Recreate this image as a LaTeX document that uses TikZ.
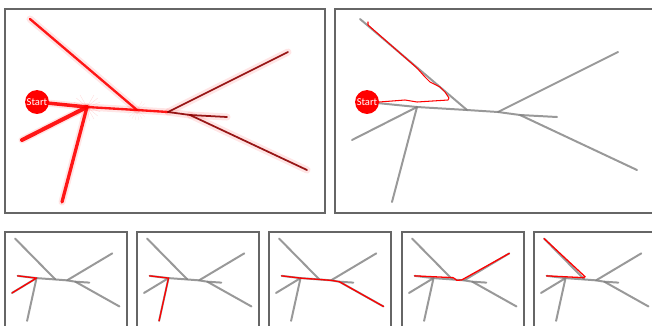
\documentclass[tikz,border=0pt]{standalone}
\usepackage{fontspec}
\newfontfamily\carlito{Carlito}
\usepackage{tikz}
\usetikzlibrary{calc}

% gia tri toa do cua duong ray (don vi: pixel cua khung lon)
\newcommand{\trackpoints}{%
    \coordinate (S) at (32,93);
    \coordinate (TL) at (25,10);
    \coordinate (J1) at (82,98);
    \coordinate (J2) at (132,101);
    \coordinate (J3) at (163,103);
    \coordinate (J4) at (185,106);
    \coordinate (stub) at (222,108);
    \coordinate (UR) at (283,43);
    \coordinate (LR) at (302,161);
    \coordinate (LL) at (17,131);
    \coordinate (D) at (57,193);
}
\newcommand{\drawtrack}[1]{%
    \draw[#1] (S) -- (J1) -- (J2) -- (J3) -- (J4) -- (stub);
    \draw[#1] (TL) -- (J2);
    \draw[#1] (J3) -- (UR);
    \draw[#1] (J4) -- (LR);
    \draw[#1] (J1) -- (LL);
    \draw[#1] (J1) -- (D);
}

\tikzset{
    frame/.style={draw=black!60, line width=0.9pt},
    track/.style={draw=black!50, line width=1.7pt, line cap=round, line join=round, opacity=0.8},
    route/.style={draw=red, line width=1.1pt, line cap=round, line join=round},
    heat/.style={draw=red, line cap=round, line join=round, opacity=0.9},
    haze/.style={draw=red, line width=6pt, opacity=0.1, line cap=round},
    startdot/.style={circle, fill=red, text=white, minimum size=20.4pt, inner sep=0pt,
        font=\carlito\fontsize{9}{10}\selectfont},
}

\begin{document}
\begin{tikzpicture}[x=0.03cm, y=-0.03cm]
    \useasboundingbox (0,0) rectangle (652,325);
    \clip (0,0) rectangle (652,325);

    % Khung 1: mat do quy dao
    \draw[frame] (5,9) rectangle (325,213);
    \begin{scope}[shift={(5,9)}]
        \trackpoints
        \drawtrack{haze}
        \foreach \a in {-60,-40,...,240} {
            \draw[red, opacity=0.12, line width=0.4pt] (J1) -- ++(\a:14);
            \draw[red, opacity=0.08, line width=0.4pt] (J2) -- ++(\a:10);
        }
        \draw[heat, line width=3pt] (S) -- (J1);
        \draw[heat, line width=3.4pt] (J1) -- (LL);
        \draw[heat, line width=2.8pt] (J1) -- (D);
        \draw[heat, line width=2pt] (J1) -- (J2) -- (J3);
        \draw[heat, line width=2pt] (TL) -- (J2);
        \draw[heat, draw=red!55!black, line width=1.5pt] (J3) -- (UR);
        \draw[heat, draw=red!55!black, line width=1.5pt] (J3) -- (J4) -- (stub);
        \draw[heat, draw=red!55!black, line width=1.5pt] (J4) -- (LR);
        \node[startdot] (start1) at (S) {Start};
    \end{scope}

    % Khung 2: mot quy dao
    \draw[frame] (335,9) rectangle (660,213);
    \begin{scope}[shift={(335,9)}]
        \trackpoints
        \drawtrack{track}
        \node[startdot] (start2) at (S) {Start};
        \draw[route, line width=0.9pt] (start2.east) -- (70,91) -- (82,93) -- (113,91) -- (114,89)
            -- (110,83) -- (105,78) -- (95,73) -- (90,68) -- (82,59) -- (33,16) -- (33,13);
    \end{scope}

    % Cac khung nho
    \foreach \ox in {5,137,269,402,534} {
        \draw[frame] (\ox,232) rectangle +(122,100);
    }
    \begin{scope}[shift={(5.6,234)}, xscale=0.377, yscale=0.45]
        \trackpoints
        \drawtrack{track}
        \draw[route] (S) -- (J1) -- (LL);
    \end{scope}
    \begin{scope}[shift={(137.6,234)}, xscale=0.377, yscale=0.45]
        \trackpoints
        \drawtrack{track}
        \draw[route] (S) -- (J1) -- (D);
    \end{scope}
    \begin{scope}[shift={(269.6,234)}, xscale=0.377, yscale=0.45]
        \trackpoints
        \drawtrack{track}
        \draw[route] (S) -- (J1) -- (J2) -- (J3) -- (J4) -- (LR);
    \end{scope}
    \begin{scope}[shift={(402.6,234)}, xscale=0.377, yscale=0.45]
        \trackpoints
        \drawtrack{track}
        \draw[route] (S) -- (134,97) -- (144,103) -- (157,102) -- (UR);
    \end{scope}
    \begin{scope}[shift={(534.6,234)}, xscale=0.377, yscale=0.45]
        \trackpoints
        \drawtrack{track}
        \draw[route] (S) -- (129,97) -- (134,95) -- (TL);
    \end{scope}
\end{tikzpicture}
\end{document}
